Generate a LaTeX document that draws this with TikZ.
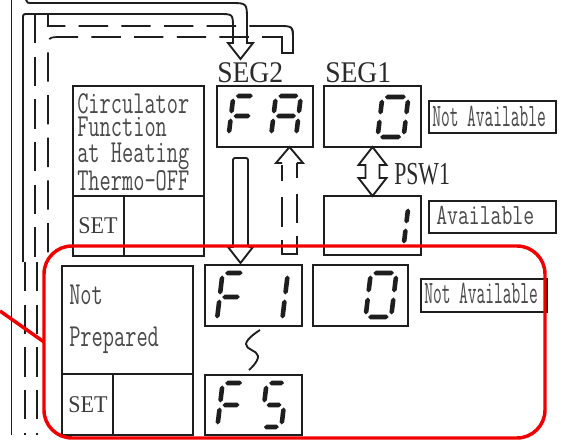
\documentclass[tikz,border=0pt]{standalone}
\usepackage{fontspec}
\setmainfont{Liberation Serif}
\newfontfamily\monoA[FakeStretch=0.68]{Latin Modern Mono}
\newfontfamily\monoN[FakeStretch=0.52]{Latin Modern Mono}
\newfontfamily\monoV[FakeStretch=0.72]{Latin Modern Mono}
\newfontfamily\serifA[FakeStretch=0.92]{Liberation Serif}
\newfontfamily\serifB[FakeStretch=0.68]{Liberation Serif}
\usetikzlibrary{fit,calc}
\definecolor{ink}{HTML}{1E1E1E}
\definecolor{txtc}{HTML}{4A4A4A}
\definecolor{labc}{HTML}{2A2A2A}
\definecolor{redc}{HTML}{F20000}

\newcommand\hseg[3]{\fill[ink] ({#1},{#3}) -- ({#1+2.3},{#3-2.3}) -- ({#2-2.3},{#3-2.3}) -- ({#2},{#3}) -- ({#2-2.3},{#3+2.3}) -- ({#1+2.3},{#3+2.3}) -- cycle;}
\newcommand\vseg[3]{\fill[ink] ({#1},{#2}) -- ({#1+2.3},{#2+2.3}) -- ({#1+2.3},{#3-2.3}) -- ({#1},{#3}) -- ({#1-2.3},{#3-2.3}) -- ({#1-2.3},{#2+2.3}) -- cycle;}
\newcommand\dsega{\hseg{-\hw+2.5}{\hw-2.5}{-\hh}}
\newcommand\dsegg{\hseg{-\hw+2.5}{\hw-2.5}{0}}
\newcommand\dsegd{\hseg{-\hw+2.5}{\hw-2.5}{\hh}}
\newcommand\dsegf{\vseg{-\hw}{-\hh+2.5}{-2.5}}
\newcommand\dsegb{\vseg{\hw}{-\hh+2.5}{-2.5}}
\newcommand\dsege{\vseg{-\hw}{2.5}{\hh-2.5}}
\newcommand\dsegc{\vseg{\hw}{2.5}{\hh-2.5}}
\newcommand\sdigit[5]{%
  \begin{scope}[shift={(#1,#2)},xslant=0.12]
    \def\hw{#3}\def\hh{#4}%
    \foreach \s in {#5}{\csname dseg\s\endcsname}%
  \end{scope}}

\begin{document}
\begin{tikzpicture}[x=0.75pt,y=-0.75pt,
  box/.style={draw=ink, line width=1.5pt, inner sep=0pt, outer sep=0pt},
  lblbox/.style={draw=ink, line width=1.8pt, inner sep=0pt, outer sep=0pt},
  divl/.style={draw=ink, line width=1.5pt},
  harrow/.style={draw=ink, line width=1.4pt, line join=miter},
  sline/.style={draw=ink, line width=1.3pt},
  dline/.style={draw=ink, line width=1.3pt, dash pattern=on 22pt off 10pt},
  redframe/.style={draw=redc, line width=2.6pt, rounded corners=21pt, inner sep=0pt, outer sep=0pt},
  redl/.style={draw=redc, line width=2.6pt},
  boxtxt/.style={anchor=base west, inner sep=0pt, text=txtc,
    font=\monoA\fontsize{24}{24}\selectfont},
  settxt/.style={anchor=base west, inner sep=0pt, text=txtc!80!black, font=\serifA\fontsize{18}{18}\selectfont},
  seglab/.style={anchor=base west, inner sep=0pt, text=labc, font=\serifA\fontsize{22.5}{22.5}\selectfont},
  psw/.style={anchor=base west, inner sep=0pt, text=labc, font=\serifB\fontsize{24}{24}\selectfont},
  natxt/.style={anchor=base west, inner sep=0pt, text=txtc, font=\monoN\fontsize{24.5}{24.5}\selectfont},
  avtxt/.style={anchor=base west, inner sep=0pt, text=txtc, font=\monoV\fontsize{22}{22}\selectfont}
]
\fill[white] (0,0) rectangle (562,441);
\useasboundingbox (0,0) rectangle (562,441);

% ---------- left routing lines ----------
\draw[sline] (11.5,0) -- (11.5,435);
\draw[dline] (35,14) -- (35,262);
\draw[dline] (25,262) -- (25,435);
\draw[dline] (37,262) -- (37,435);

% solid hollow arrow into SEG2
\draw[harrow] (26,0) .. controls (27,3) .. (34,3) -- (230,3) .. controls (247,3) .. (247,20) -- (247,43)
  -- (253,43) -- (240.5,59) -- (228,43) -- (233,43) -- (233,28) .. controls (233,14) .. (219,14)
  -- (28,14) .. controls (23,14) .. (23,19) -- (23,262);

% dashed hollow path (top)
\draw[dline] (48,14) -- (48,26) -- (278,26) .. controls (293,26) .. (293,40) -- (293,53) -- (282,53)
  -- (282,37) -- (62,37) .. controls (48,37) .. (48,51) -- (48,262);
\draw[harrow] (262,26) -- (278,26) .. controls (293,26) .. (293,40) -- (293,53) -- (282,53) -- (282,37) -- (266,37);

% ---------- boxes ----------
\node[box, fit={(73,86) (204,256)}] (circ) {};
\draw[divl] ($(circ.north west)+(0,110)$) -- ($(circ.north east)+(0,110)$);
\draw[divl] ($(circ.south west)+(51,0)$) -- ($(circ.south west)+(51,-60)$);
\node[box, fit={(217,86) (313,147)}] (fa) {};
\node[box, fit={(324,86) (421,147)}] (seg1) {};
\node[box, fit={(324,196) (421,255)}] (one) {};
\node[lblbox, fit={(429,101) (556,133)}] (na1) {};
\node[lblbox, fit={(429,201) (556,233)}] (av) {};

\node[box, fit={(62,266) (193,435)}] (np) {};
\draw[divl] ($(np.north west)+(0,108)$) -- ($(np.north east)+(0,108)$);
\draw[divl] ($(np.south west)+(51,0)$) -- ($(np.south west)+(51,-61)$);
\node[box, fit={(205,265) (302,326)}] (f1) {};
\node[box, fit={(205,375) (302,435)}] (f5) {};
\node[box, fit={(313,265) (408,326)}] (zero) {};
\node[lblbox, fit={(421,279) (547,312)}] (na2) {};

% ---------- texts ----------
\node[boxtxt] (circtxt) at (77,191) {\vbox{\baselineskip=17.25pt\lineskiplimit=-100pt\lineskip=0pt
  \hbox{Circulator}\hbox{Function}\vskip2.25pt\hbox{at Heating}\vskip3.75pt\hbox{Thermo-OFF}}};
\node[settxt] (set1) at (78,234) {SET};
\node[boxtxt] (t5) at (69,305) {Not};
\node[boxtxt] (t6) at (69,347) {Prepared};
\node[settxt] (set2) at (68,413) {SET};
\node[seglab] (s2) at (217,83) {SEG2};
\node[seglab] (s1) at (325,83) {SEG1};
\node[psw] (pswl) at (394,185) {PSW1};
\node[natxt] (nat1) at (432,127) {Not Available};
\node[avtxt] (avt) at (436,225) {Available};
\node[natxt] (nat2) at (424,304) {Not Available};

% ---------- seven-segment digits ----------
\sdigit{242}{116}{11}{20}{a,f,g,e}
\sdigit{286}{116}{12.5}{20}{a,b,c,e,f,g}
\sdigit{393}{117}{13}{20}{a,b,c,d,e,f}
\sdigit{393}{226}{13}{20}{b,c}
\sdigit{231}{297}{11.3}{24}{a,f,g,e}
\sdigit{274}{297}{11}{24}{b,c}
\sdigit{381}{295}{12.8}{22}{a,b,c,d,e,f}
\sdigit{231}{405}{11}{22}{a,f,g,e}
\sdigit{274}{405}{10}{22}{a,f,g,c,d}

% ---------- arrows ----------
% PSW1 double arrow
\draw[harrow] (seg1.south) -- ++(14,18) -- ++(-7,0) -- ++(0,13) -- ++(7,0) -- (one.north)
  -- ++(-14,-18) -- ++(7,0) -- ++(0,-13) -- ++(-7,0) -- cycle;
% solid down arrow FA -> F1
\coordinate (dtip) at ($(f1.north west)+(35.5,-2)$);
\draw[harrow, rounded corners=1.5pt] ($(dtip)+(-7.5,-16)$) -- ($(dtip)+(-7.5,-105)$) -- ($(dtip)+(7.5,-105)$) -- ($(dtip)+(7.5,-16)$) [sharp corners] -- ($(dtip)+(12.5,-16)$) -- (dtip) -- ($(dtip)+(-12.5,-16)$) -- cycle;
% dashed up arrow F1 -> FA
\coordinate (utip) at ($(fa.south west)+(72.5,0)$);
\draw[harrow] ($(utip)+(-7.5,16)$) -- ($(utip)+(-13.5,16)$) -- (utip) -- ($(utip)+(13.5,16)$) -- ($(utip)+(7.5,16)$);
\draw[harrow, dash pattern=on 11pt off 12pt on 22pt off 10pt on 35pt off 10pt on 22pt off 12pt on 12pt off 10pt]
  ($(utip)+(7.5,16)$) -- ($(utip)+(7.5,107)$) -- ($(utip)+(-7.5,107)$) -- ($(utip)+(-7.5,16)$);
% range squiggle F1 ~ F5
\draw[ink, line width=1.4pt] plot[smooth, tension=0.8] coordinates {(260,330) (246,344) (258,356) (249,370)};

% ---------- red highlight ----------
\node[redframe, fit={(44,246) (545,438)}] (frame) {};
\coordinate (redstart) at (0,311);
\draw[redl] (redstart) -- (frame.west);
\end{tikzpicture}
\end{document}
